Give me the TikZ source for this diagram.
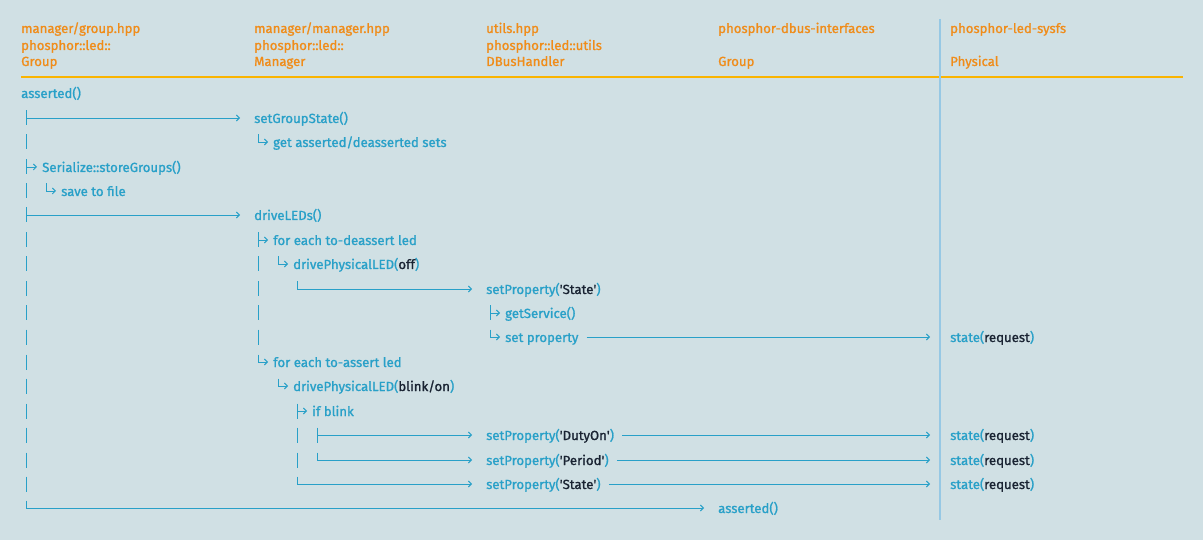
\documentclass[tikz,border=0pt]{standalone}
\usepackage{fontspec}
\setmainfont{Fira Sans}[FakeBold=1.2]
\usetikzlibrary{arrows.meta}
\definecolor{bg}{RGB}{208,224,228}
\definecolor{hdr}{RGB}{240,140,25}
\definecolor{rulec}{RGB}{250,180,0}
\definecolor{cb}{RGB}{40,160,200}
\definecolor{dk}{RGB}{25,35,50}
\definecolor{vl}{RGB}{150,200,228}
\newcommand{\q}{\textquotesingle}
\begin{document}
\begin{tikzpicture}[x=1pt,y=-1pt,
 txt/.style={anchor=west,inner sep=0pt,text height=11pt,text depth=1pt,font=\fontsize{13.2}{15}\selectfont,text=cb},
 head/.style={txt,text=hdr},
 bar/.style={draw=cb,line width=0.9pt},
 arr/.style={bar,-{Straight Barb[length=3pt,width=6pt,line width=0.9pt]}},
]
\fill[bg] (0,0) rectangle (1203,540);
\useasboundingbox (0,0) rectangle (1203,540);
% headers
\node[head] (h1a) at (21,28) {manager/group.hpp};
\node[head] (h1b) at (21,45) {phosphor::led::};
\node[head] (h1c) at (21,61) {Group};
\node[head] (h2a) at (254,28) {manager/manager.hpp};
\node[head] (h2b) at (254,45) {phosphor::led::};
\node[head] (h2c) at (254,61) {Manager};
\node[head] (h3a) at (486,28) {utils.hpp};
\node[head] (h3b) at (486,45) {phosphor::led::utils};
\node[head] (h3c) at (486,61) {DBusHandler};
\node[head] (h4a) at (718,28) {phosphor-dbus-interfaces};
\node[head] (h4c) at (718,61) {Group};
\node[head] (h5a) at (950,28) {phosphor-led-sysfs};
\node[head] (h5c) at (950,61) {Physical};
\draw[rulec,line width=2.5pt] (21,77) -- (1183,77);
\draw[vl,line width=2.5pt] (940,19) -- (940,520);
% texts
\node[txt] (asrt) at (21,93) {asserted()};
\node[txt] (sgs) at (254,118) {setGroupState()};
\node[txt] (gas) at (273,142) {get asserted/deasserted sets};
\node[txt] (ser) at (42,167) {Serialize::storeGroups()};
\node[txt] (save) at (61,191) {save to file};
\node[txt] (dled) at (254,215) {driveLEDs()};
\node[txt] (fed) at (273,240) {for each to-deassert led};
\node[txt] (dploff) at (293,264) {drivePhysicalLED(\textcolor{dk}{off})};
\node[txt] (sp1) at (486,289) {setProperty(\textcolor{dk}{\q State\q})};
\node[txt] (gsv) at (505,313) {getService()};
\node[txt] (setp) at (505,337) {set property};
\node[txt] (st1) at (950,337) {state(\textcolor{dk}{request})};
\node[txt] (fea) at (273,362) {for each to-assert led};
\node[txt] (dplon) at (293,386) {drivePhysicalLED(\textcolor{dk}{blink/on})};
\node[txt] (ifb) at (312,411) {if blink};
\node[txt] (sp2) at (486,435) {setProperty(\textcolor{dk}{\q DutyOn\q})};
\node[txt] (st2) at (950,435) {state(\textcolor{dk}{request})};
\node[txt] (sp3) at (486,460) {setProperty(\textcolor{dk}{\q Period\q})};
\node[txt] (st3) at (950,460) {state(\textcolor{dk}{request})};
\node[txt] (sp4) at (486,484) {setProperty(\textcolor{dk}{\q State\q})};
\node[txt] (st4) at (950,484) {state(\textcolor{dk}{request})};
\node[txt] (asrt2) at (718,508) {asserted()};
% left column bars
\foreach \y in {118,142,167,191,215,240,264,289,313,337,362,386,411,435,460,484}
  \draw[bar] (26,\y-7.5) -- (26,\y+7.5);
\draw[arr] (26,118) -- ([xshift=-14pt]sgs.west);
\draw[arr] (26,167) -- ([xshift=-5pt]ser.west);
\draw[arr] (46,183.5) |- ([xshift=-5pt]save.west);
\draw[arr] (26,215) -- ([xshift=-14pt]dled.west);
\draw[arr] (26,500.5) |- ([xshift=-14pt]asrt2.west);
% manager column
\draw[arr] (258,134.5) |- ([xshift=-5pt]gas.west);
\foreach \y in {240,264,289,313,337}
  \draw[bar] (258,\y-7.5) -- (258,\y+7.5);
\draw[arr] (258,240) -- ([xshift=-5pt]fed.west);
\draw[arr] (278,256.5) |- ([xshift=-5pt]dploff.west);
\draw[arr] (297,281.5) |- ([xshift=-14pt]sp1.west);
\draw[arr] (258,354.5) |- ([xshift=-5pt]fea.west);
\draw[arr] (278,378.5) |- ([xshift=-5pt]dplon.west);
\foreach \y in {411,435,460}
  \draw[bar] (297,\y-7.5) -- (297,\y+7.5);
\draw[arr] (297,411) -- ([xshift=-5pt]ifb.west);
\draw[bar] (317,427.5) -- (317,442.5);
\draw[arr] (317,435) -- ([xshift=-14pt]sp2.west);
\draw[arr] (317,452.5) |- ([xshift=-14pt]sp3.west);
\draw[arr] (297,476.5) |- ([xshift=-14pt]sp4.west);
% utils column
\draw[bar] (490,305.5) -- (490,320.5);
\draw[arr] (490,313) -- ([xshift=-5pt]gsv.west);
\draw[arr] (490,329.5) |- ([xshift=-5pt]setp.west);
% to sysfs
\draw[arr] ([xshift=8pt]setp.east) -- ([xshift=-20pt]st1.west);
\draw[arr] ([xshift=8pt]sp2.east) -- ([xshift=-20pt]st2.west);
\draw[arr] ([xshift=8pt]sp3.east) -- ([xshift=-20pt]st3.west);
\draw[arr] ([xshift=8pt]sp4.east) -- ([xshift=-20pt]st4.west);
\end{tikzpicture}
\end{document}
